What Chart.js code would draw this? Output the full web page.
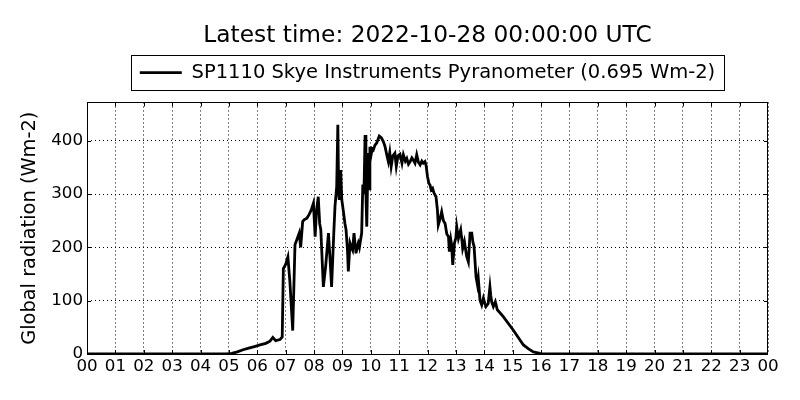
<!DOCTYPE html>
<html><head><meta charset="utf-8">
<script src="https://cdn.jsdelivr.net/npm/chart.js@4.4.1/dist/chart.umd.min.js"></script>
<style>html,body{margin:0;padding:0;background:#fff}</style>
</head><body>
<canvas id="c" width="800" height="400"></canvas>
<script>
const titleText = 'Latest time: 2022-10-28 00:00:00 UTC';
const seriesLabel = 'SP1110 Skye Instruments Pyranometer (0.695 Wm-2)';
const yAxisLabel = 'Global radiation (Wm-2)';
const xTickLabels = ['00','01','02','03','04','05','06','07','08','09','10','11','12',
  '13','14','15','16','17','18','19','20','21','22','23','00'];
const yTickValues = [0, 100, 200, 300, 400];

// time of day in hours (UTC)
const hours = [0, 4.9, 5.1, 5.3, 5.5, 5.7, 5.9, 6.1, 6.3, 6.45, 6.55, 6.65, 6.8, 6.88,
  6.92, 7.0, 7.08, 7.15, 7.25, 7.33, 7.42, 7.48, 7.53, 7.6, 7.65, 7.75, 7.83, 7.9, 7.98,
  8.04, 8.09, 8.15, 8.2, 8.24, 8.33, 8.41, 8.51, 8.56, 8.62, 8.7, 8.74, 8.8, 8.84, 8.87,
  8.89, 8.94, 8.98, 9.03, 9.09, 9.13, 9.18, 9.21, 9.27, 9.32, 9.36, 9.41, 9.45, 9.48,
  9.52, 9.56, 9.6, 9.68, 9.72, 9.76, 9.8, 9.83, 9.86, 9.89, 9.91, 9.94, 9.97, 10.0,
  10.05, 10.09, 10.15, 10.21, 10.3, 10.37, 10.44, 10.5, 10.56, 10.62, 10.67, 10.72,
  10.78, 10.85, 10.9, 10.96, 11.03, 11.1, 11.15, 11.22, 11.27, 11.33, 11.38, 11.45,
  11.5, 11.56, 11.62, 11.68, 11.74, 11.8, 11.85, 11.91, 11.95, 12.0, 12.05, 12.09,
  12.13, 12.18, 12.23, 12.3, 12.35, 12.38, 12.45, 12.5, 12.56, 12.62, 12.68, 12.74,
  12.77, 12.82, 12.85, 12.89, 12.95, 13.0, 13.03, 13.09, 13.13, 13.17, 13.21, 13.24,
  13.3, 13.38, 13.44, 13.5, 13.56, 13.6, 13.64, 13.68, 13.71, 13.76, 13.79, 13.85,
  13.91, 13.97, 14.02, 14.06, 14.14, 14.2, 14.23, 14.26, 14.32, 14.39, 14.46, 14.67,
  15.02, 15.38, 15.55, 15.73, 15.96, 16.05, 24];

// global radiation (Wm-2)
const radiation = [0, 0, 1, 4, 8, 11, 14, 17, 20, 24, 31, 25, 27, 32,
  160, 168, 182, 136, 44, 205, 218, 227, 200, 248, 252, 255, 262, 270, 283,
  220, 270, 295, 245, 233, 126, 164, 227, 183, 126, 230, 277, 314, 430, 300,
  289, 345, 289, 270, 245, 233, 195, 155, 208, 200, 195, 227, 205, 189,
  200, 208, 200, 227, 318, 300, 411, 300, 239, 330, 377, 310, 389, 370,
  385, 383, 392, 396, 409, 406, 399, 390, 375, 361, 378, 352,
  372, 377, 352, 372, 375, 358, 374, 362, 367, 356, 360, 368,
  364, 358, 374, 360, 355, 362, 358, 361, 354, 333, 320, 317,
  308, 311, 302, 295, 270, 242, 255, 267, 250, 245, 225, 220,
  192, 215, 205, 167, 208, 218, 239, 217, 225, 233, 215, 198,
  211, 183, 173, 227, 227, 210, 202, 170, 145, 130, 142, 101,
  92, 105, 95, 89, 95, 126, 110, 98, 89, 98, 83, 70,
  45, 17, 10, 4, 1, 0, 0];

const FONT = "'DejaVu Sans', 'Liberation Sans', sans-serif";

const framePlugin = {
  id: 'framePlugin',
  afterDraw(chart) {
    const ctx = chart.ctx;
    const a = chart.chartArea;
    const xs = chart.scales.x, ys = chart.scales.y;
    ctx.save();
    ctx.strokeStyle = '#000';
    ctx.lineWidth = 1;
    ctx.strokeRect(Math.round(a.left) + 0.5, Math.round(a.top) + 0.5,
      Math.round(a.right - a.left) - 1, Math.round(a.bottom - a.top));
    ctx.beginPath();
    for (let i = 1; i < xTickLabels.length - 1; i++) {
      const px = Math.round(xs.getPixelForValue(i)) + 0.5;
      ctx.moveTo(px, a.bottom); ctx.lineTo(px, a.bottom - 4);
      ctx.moveTo(px, a.top); ctx.lineTo(px, a.top + 4);
    }
    for (const v of yTickValues) {
      if (v === 0) continue;
      const py = Math.round(ys.getPixelForValue(v)) + 0.5;
      ctx.moveTo(a.left, py); ctx.lineTo(a.left + 4, py);
      ctx.moveTo(a.right, py); ctx.lineTo(a.right - 4, py);
    }
    ctx.stroke();
    // legend frame
    const lg = chart.legend;
    if (lg && lg.legendHitBoxes && lg.legendHitBoxes.length) {
      const hb = lg.legendHitBoxes[0];
      const cy = hb.top + hb.height / 2;
      ctx.strokeRect(Math.round(hb.left - 9) + 0.5, Math.round(cy - 17.5) + 0.5,
        Math.round(hb.width + 18), 35);
    }
    ctx.restore();
  }
};

new Chart(document.getElementById('c'), {
  type: 'line',
  data: {
    datasets: [{
      label: seriesLabel,
      data: hours.map((h, i) => ({x: h, y: radiation[i]})),
      borderColor: '#000',
      backgroundColor: '#000',
      borderWidth: 2.8,
      pointRadius: 0,
      tension: 0,
      fill: false
    }]
  },
  options: {
    responsive: false,
    animation: false,
    devicePixelRatio: 1,
    layout: {padding: {left: 0, right: 32, top: 0, bottom: 0}},
    plugins: {
      title: {
        display: true, text: titleText, color: '#000', fullSize: false,
        font: {family: FONT, size: 23.3, weight: 'normal'},
        padding: {top: 22, bottom: 4}
      },
      legend: {
        display: true, position: 'top', fullSize: false,
        labels: {
          color: '#000', font: {family: FONT, size: 19.5},
          usePointStyle: true, pointStyle: 'line', pointStyleWidth: 42,
          padding: 9
        }
      },
      tooltip: {enabled: false}
    },
    scales: {
      x: {
        type: 'linear', position: 'bottom', min: 0, max: 24,
        afterFit: s => { s.height = 46; },
        afterBuildTicks: s => { s.ticks = xTickLabels.map((_, i) => ({value: i})); },
        ticks: {
          autoSkip: false, maxRotation: 0, padding: 3, color: '#000',
          font: {family: FONT, size: 16.7},
          callback: v => xTickLabels[v]
        },
        grid: {color: '#000', lineWidth: 1, drawTicks: false},
        border: {display: false, dash: [1, 3]}
      },
      xTop: {
        type: 'linear', position: 'top', min: 0, max: 24, display: true,
        afterFit: s => { s.height = 10; },
        ticks: {display: false},
        grid: {display: false, drawTicks: false},
        border: {display: false}
      },
      y: {
        type: 'linear', position: 'left', min: 0, max: 472,
        afterFit: s => { s.width = 87; },
        afterBuildTicks: s => { s.ticks = yTickValues.map(v => ({value: v})); },
        ticks: {padding: 4, color: '#000', font: {family: FONT, size: 16.7}, includeBounds: false},
        grid: {color: '#000', lineWidth: 1, drawTicks: false},
        border: {display: false, dash: [1, 3]},
        title: {
          display: true, text: yAxisLabel, color: '#000',
          font: {family: FONT, size: 19.4}, padding: {top: 18, bottom: 0}
        }
      }
    }
  },
  plugins: [framePlugin]
});
</script>
</body></html>
